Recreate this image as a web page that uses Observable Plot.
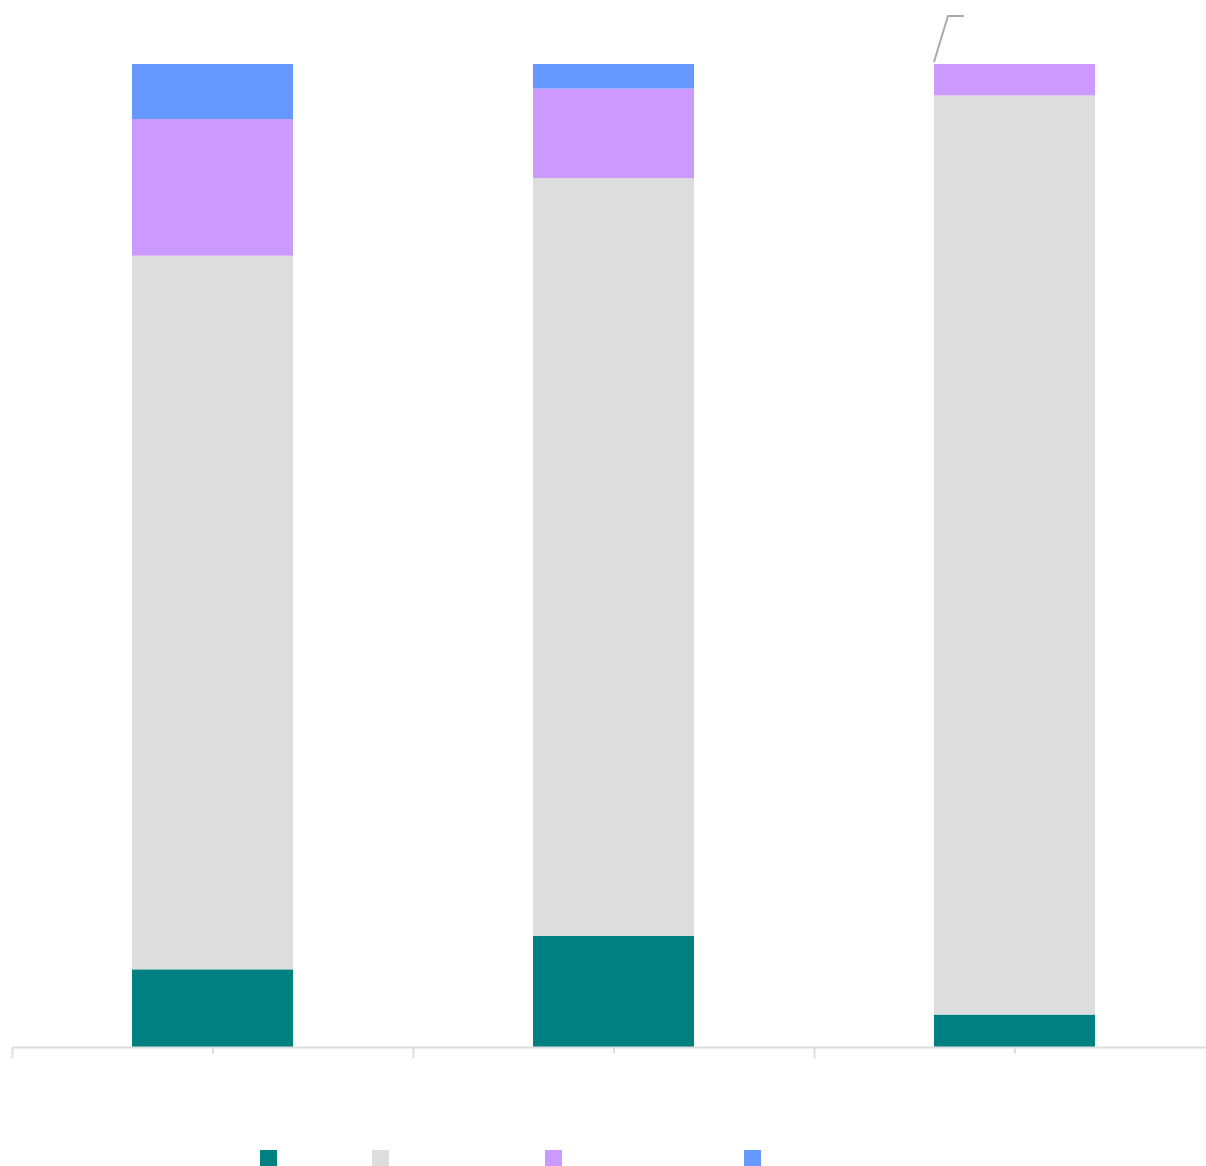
<!DOCTYPE html>
<html>
<head>
<meta charset="utf-8">
<script src="https://cdn.jsdelivr.net/npm/d3@7"></script>
<script src="https://cdn.jsdelivr.net/npm/@observablehq/plot@0.6"></script>
<style>
  html, body { margin: 0; padding: 0; background: #fff; overflow: hidden; font-family: "Noto Sans", sans-serif; }
  #legend { position: relative; height: 66px; }
  .sw { position: absolute; top: 50px; width: 17px; height: 17px; }
</style>
</head>
<body>
<div id="chart"></div>
<div id="legend"></div>
<script>
const categories = ["Group 1", "Group 2", "Group 3"];
const seriesNames = ["Series 1", "Series 2", "Series 3", "Series 4"];
const seriesColors = ["#008080", "#dddddd", "#cc99ff", "#6699ff"];
const valuesS1 = [7.9, 11.3, 3.3];
const valuesS2 = [72.6, 77.1, 93.5];
const valuesS3 = [13.9, 9.1, 3.2];
const valuesS4 = [5.6, 2.5, 0];

const seriesValues = [valuesS1, valuesS2, valuesS3, valuesS4];
const data = [];
seriesNames.forEach((s, si) => {
  categories.forEach((c, ci) => data.push({category: c, series: s, value: seriesValues[si][ci]}));
});

const W = 1206, H = 1100;
const x0 = 12, x1 = 1215;
const step = (x1 - x0) / categories.length;
const inset = 120;

const leader = (index, scales) => {
  const last = categories[categories.length - 1];
  const bx = scales.x(last) + inset;
  const by = scales.y(100);
  const p = d3.create("svg:path")
    .attr("d", `M${bx},${by - 2}L${bx + 14},${by - 48}H${bx + 30}`)
    .attr("fill", "none")
    .attr("stroke", "#aaaaaa")
    .attr("stroke-width", 2);
  return p.node();
};

const chart = Plot.plot({
  width: W,
  height: H,
  marginLeft: x0,
  marginRight: 0,
  marginTop: 64,
  marginBottom: 53,
  style: {background: "#fff"},
  x: {domain: categories, range: [x0, x1], padding: 0, axis: null},
  y: {domain: [0, 100], axis: null},
  color: {domain: seriesNames, range: seriesColors},
  marks: [
    Plot.barY(data, {x: "category", y: "value", fill: "series", insetLeft: inset, insetRight: inset}),
    Plot.ruleY([0], {stroke: "#dddddd", strokeWidth: 2}),
    Plot.axisX({tickSize: 6, tickFormat: () => "", label: null, stroke: "#dddddd", strokeWidth: 2}),
    Plot.axisX({tickSize: 11, tickFormat: () => "", label: null, stroke: "#dddddd", strokeWidth: 2, dx: -step / 2}),
    leader
  ]
});
document.getElementById("chart").appendChild(chart);

const legendX = [260, 372, 545, 744];
const legend = document.getElementById("legend");
seriesNames.forEach((s, i) => {
  const d = document.createElement("div");
  d.className = "sw";
  d.style.left = legendX[i] + "px";
  d.style.background = seriesColors[i];
  d.title = s;
  legend.appendChild(d);
});
</script>
</body>
</html>
